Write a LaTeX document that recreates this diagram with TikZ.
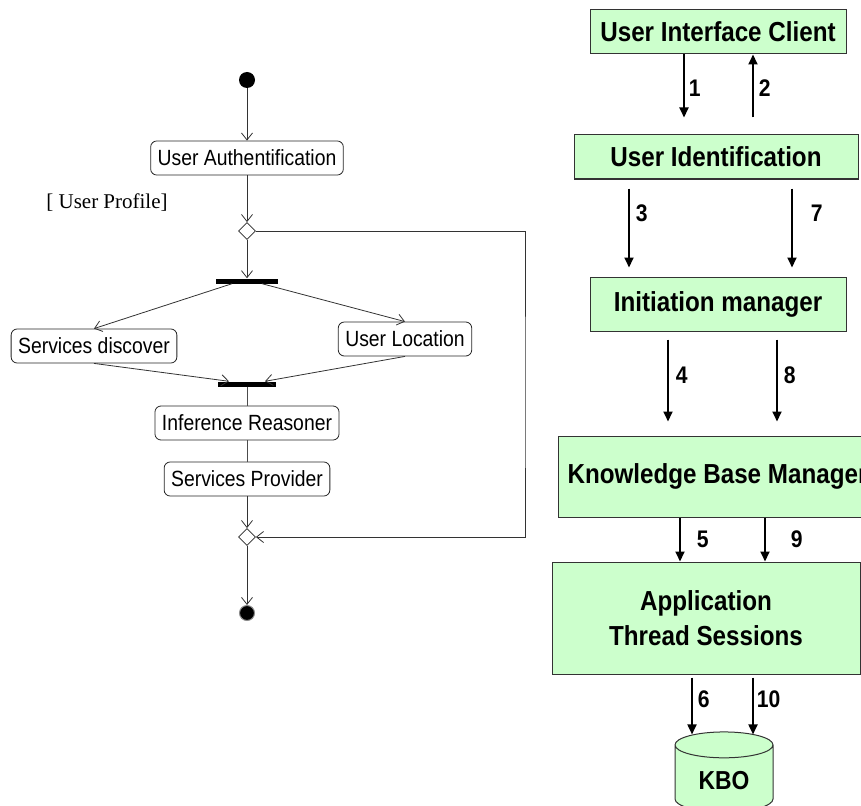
\documentclass[tikz,border=0pt]{standalone}
\usepackage{fontspec}
\setmainfont{Liberation Sans}[FakeStretch=0.88]
\newfontfamily\guardfont{Liberation Serif}
\usepackage{xcolor}
\usetikzlibrary{arrows.meta,positioning,shapes.geometric}

\definecolor{mint}{HTML}{CCFFCC}

\begin{document}
\begin{tikzpicture}[
    x=1pt, y=-1pt,
    act/.style={draw=black!85, line width=0.8pt, rounded corners=6pt, fill=white,
                minimum height=34pt, inner xsep=7pt, font=\fontsize{22}{24}\selectfont},
    guard/.style={font=\guardfont\fontsize{21}{24}\selectfont},
    bar/.style={fill=black, minimum height=5pt, inner sep=0pt},
    choice/.style={diamond, draw=black!85, line width=0.8pt, fill=white,
                   minimum width=17pt, minimum height=17pt, inner sep=0pt},
    startdot/.style={circle, fill=black, minimum size=16pt, inner sep=0pt},
    enddot/.style={circle, fill=black, draw=black!45, line width=1pt,
                   minimum size=15pt, inner sep=0pt},
    flow/.style={-{Straight Barb[length=7pt,width=11pt]}, draw=black!80, line width=0.8pt},
    plain/.style={draw=black!70, line width=0.8pt},
    comp/.style={draw=black!80, line width=1pt, fill=mint, align=center,
                 font=\fontsize{27.5}{35}\selectfont\bfseries},
    store/.style={cylinder, shape border rotate=90, aspect=0.45, draw=black!80,
                  line width=1pt, fill=mint, minimum width=98pt, minimum height=80pt,
                  font=\fontsize{26}{30}\selectfont\bfseries},
    arr/.style={-{Triangle[length=10pt,width=9pt]}, line width=1.8pt},
    num/.style={inner sep=0pt, font=\fontsize{24}{26}\selectfont\bfseries}
]
    \clip (0,0) rectangle (861,805);

    % activity flow
    \node[startdot] (start) at (247,80) {};
    \node[act] (auth) at (247,158) {User Authentification};
    \node[guard] (prof) at (107,203) {[ User Profile]};
    \node[choice] (dec) at (247,231) {};
    \node[bar, minimum width=62pt] (fork) at (247,281) {};
    \node[act] (disc) at (94,346) {Services discover};
    \node[act] (loc) at (405,339) {User Location};
    \node[bar, minimum width=58pt] (join) at (247,384) {};
    \node[act] (infer) at (247,423) {Inference Reasoner};
    \node[act] (prov) at (247,479) {Services Provider};
    \node[choice] (merge) at (247,537) {};
    \node[enddot] (stop) at (247,613) {};
    \coordinate (back) at (525,400);

    \draw[flow] (start) -- (auth);
    \draw[flow] (auth) -- (dec);
    \draw[flow] (dec) -- (fork);
    \draw[flow] ([xshift=-15pt]fork.south) -- (disc.north);
    \draw[flow] ([xshift=15pt]fork.south) -- (loc.north);
    \draw[flow] (disc.south) -- ([xshift=-18pt]join.north);
    \draw[flow] (loc.south) -- ([xshift=18pt]join.north);
    \draw[plain] (join) -- (infer);
    \draw[plain] (infer) -- (prov);
    \draw[flow] (prov) -- (merge);
    \draw[flow] (dec.east) -| (back) |- (merge.east);
    \draw[flow] (merge) -- (stop);

    % components
    \node[comp, minimum width=256pt, minimum height=44pt] (uic) at (718,32) {User Interface Client};
    \node[comp, minimum width=284pt, minimum height=44pt] (uid) at (716,157) {User Identification};
    \node[comp, minimum width=256pt, minimum height=54pt] (init) at (718,304) {Initiation manager};
    \node[comp, minimum width=319pt, minimum height=81pt] (kbm) at (717.5,476.5) {Knowledge Base Manager};
    \node[comp, minimum width=308pt, minimum height=112pt] (ats) at (706,618) {Application\\Thread Sessions};
    \node[store] (kbo) at (724,781) {KBO};

    \coordinate (l1) at (684,0);
    \coordinate (l2) at (753,0);
    \coordinate (l3) at (629,0);
    \coordinate (l7) at (792,0);
    \coordinate (l4) at (668,0);
    \coordinate (l8) at (777,0);
    \coordinate (l5) at (680,0);
    \coordinate (l9) at (765,0);
    \coordinate (l6) at (692,0);
    \coordinate (l10) at (753,0);

    \draw[arr, shorten >=17pt] (uic.south -| l1) -- (uid.north -| l1) node[num, pos=.42, right=4pt] (n1) {1};
    \draw[arr, shorten <=17pt] (uid.north -| l2) -- (uic.south -| l2) node[num, pos=.58, right=5pt] (n2) {2};
    \draw[arr, shorten <=9pt, shorten >=9pt] (uid.south -| l3) -- (init.north -| l3) node[num, pos=.35, right=6pt] (n3) {3};
    \draw[arr, shorten <=9pt, shorten >=9pt] (uid.south -| l7) -- (init.north -| l7) node[num, pos=.35, right=18pt] (n7) {7};
    \draw[arr, shorten <=8pt, shorten >=14pt] (init.south -| l4) -- (kbm.north -| l4) node[num, pos=.42, right=7pt] (n4) {4};
    \draw[arr, shorten <=8pt, shorten >=14pt] (init.south -| l8) -- (kbm.north -| l8) node[num, pos=.42, right=6pt] (n8) {8};
    \draw[arr] (kbm.south -| l5) -- (ats.north -| l5) node[num, pos=.5, right=16pt] (n5) {5};
    \draw[arr] (kbm.south -| l9) -- (ats.north -| l9) node[num, pos=.5, right=25pt] (n9) {9};
    \draw[arr, shorten <=3pt, shorten >=-3pt] (ats.south -| l6) -- (kbo.north -| l6) node[num, pos=.43, right=5pt] (n6) {6};
    \draw[arr, shorten <=3pt, shorten >=-3pt] (ats.south -| l10) -- (kbo.north -| l10) node[num, pos=.43, right=3pt] (n10) {10};
\end{tikzpicture}
\end{document}
